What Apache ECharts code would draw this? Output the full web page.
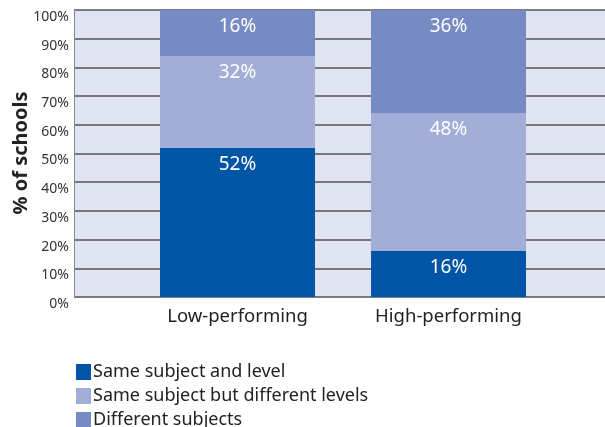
<!DOCTYPE html>
<html><head><meta charset="utf-8">
<script src="https://cdn.jsdelivr.net/npm/echarts@6/dist/echarts.min.js"></script>
<style>html,body{margin:0;padding:0;background:#fff}#c{width:605px;height:427px}</style>
</head><body><div id="c"></div>
<script>
const categories = ['Low-performing', 'High-performing'];
const seriesNames = ['Same subject and level', 'Same subject but different levels', 'Different subjects'];
const sameSubjectSameLevel = [52, 16];
const sameSubjectDiffLevels = [32, 48];
const differentSubjects = [16, 36];
const yTicks = [0, 10, 20, 30, 40, 50, 60, 70, 80, 90, 100];
const yAxisTitle = '% of schools';
const colors = ['#0055a6', '#a2aed8', '#768bc4'];
const FONT = '"Noto Sans", "Open Sans", sans-serif';

const chart = echarts.init(document.getElementById('c'));
const labelCfg = {
  show: true, position: 'insideTop', distance: 7, color: '#fff',
  fontSize: 19, fontFamily: FONT, formatter: p => p.value + '%'
};
const vals = [sameSubjectSameLevel, sameSubjectDiffLevels, differentSubjects];
chart.setOption({
  backgroundColor: '#fff',
  animation: false,
  textStyle: { fontFamily: FONT },
  graphic: [{
    type: 'text', x: 21, y: 153, rotation: Math.PI / 2,
    style: { text: yAxisTitle, fontSize: 20, fontWeight: 'bold', fill: '#222', fontFamily: FONT,
      align: 'center', verticalAlign: 'middle' }
  }],
  grid: [
    { left: 74, right: 0, top: 10, bottom: 130, show: true, backgroundColor: '#e0e3f1', borderWidth: 0, outerBoundsMode: 'none', containLabel: false },
    { left: 132, width: 422, top: 10, bottom: 130, outerBoundsMode: 'none', containLabel: false }
  ],
  legend: {
    orient: 'vertical', left: 76, top: 363, height: 120, padding: 0,
    itemWidth: 15, itemHeight: 16, itemGap: 6,
    icon: 'rect', data: seriesNames,
    textStyle: { fontSize: 18, color: '#222', fontFamily: FONT, padding: [0, 0, 0, -3] }
  },
  xAxis: [
    { type: 'value', gridIndex: 0, min: 0, max: 1, show: false },
    { type: 'category', gridIndex: 1, data: categories,
      axisLine: { show: false }, axisTick: { show: false },
      axisLabel: { fontSize: 18.5, color: '#222', margin: 10, fontFamily: FONT } }
  ],
  yAxis: [
    { type: 'value', gridIndex: 0, min: 0, max: 100, interval: 10,
      axisLine: { show: true, lineStyle: { color: '#888', width: 1 } },
      axisTick: { show: false },
      axisLabel: { fontSize: 14, color: '#333', margin: 5, verticalAlign: 'top', fontFamily: FONT,
        formatter: v => v + '%' },
      splitLine: { show: true, lineStyle: { color: '#555', width: 1.5 } }
    },
    { type: 'value', gridIndex: 1, min: 0, max: 100, show: false }
  ],
  series: seriesNames.map((n, i) => ({
    name: n, type: 'bar', stack: 's', xAxisIndex: 1, yAxisIndex: 1,
    barWidth: 155, data: vals[i], itemStyle: { color: colors[i] }, label: labelCfg
  }))
});
</script></body></html>
